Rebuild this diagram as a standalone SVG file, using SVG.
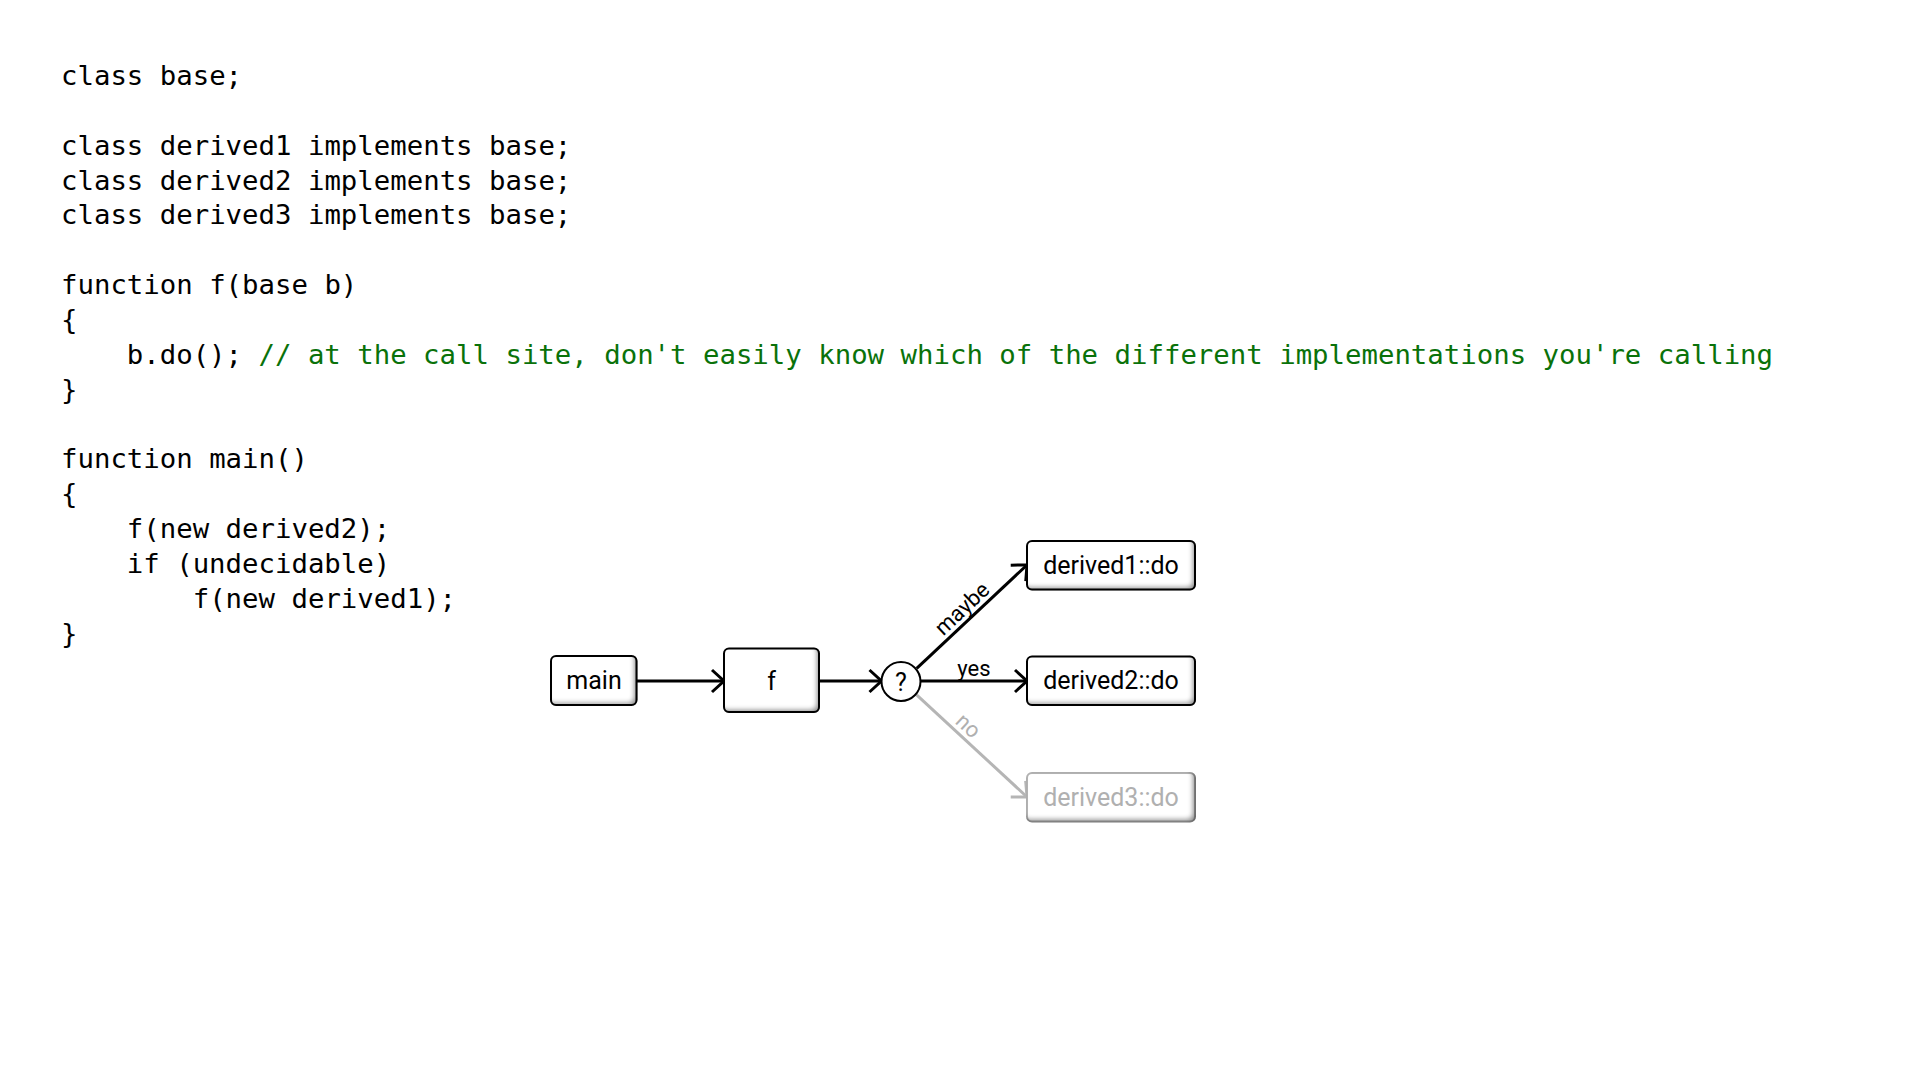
<svg xmlns="http://www.w3.org/2000/svg" width="1920" height="1080" viewBox="0 0 1920 1080">
<style>
.code{font-family:"DejaVu Sans Mono","Liberation Mono",monospace;font-size:27.35px;fill:#000;}
.cm{fill:#0a720a;}
.box{fill:#fff;stroke:#000;stroke-width:2;}
.box.dim{stroke:#b5b5b5;}
.lbl{font-family:Roboto,"Liberation Sans",sans-serif;font-size:25px;fill:#000;text-anchor:middle;}
.lbl.dim{fill:#b0b0b0;}
.elbl{font-family:Roboto,"Liberation Sans",sans-serif;font-size:22px;fill:#000;text-anchor:middle;}
.elbl.dim{fill:#b0b0b0;}
.edge{fill:none;stroke:#000;stroke-width:3;marker-end:url(#arr);}
.edge.dim{stroke:#b5b5b5;marker-end:url(#arrg);}
</style>
<defs>
<filter id="inset" x="-10%" y="-10%" width="120%" height="120%" color-interpolation-filters="sRGB">
<feComponentTransfer in="SourceAlpha" result="inv"><feFuncA type="table" tableValues="1 0"/></feComponentTransfer>
<feGaussianBlur in="inv" stdDeviation="2.5"/>
<feOffset dx="-3" dy="-3" result="ob"/>
<feFlood flood-color="#000" flood-opacity="0.45"/>
<feComposite in2="ob" operator="in"/>
<feComposite in2="SourceAlpha" operator="in" result="sh"/>
<feMerge><feMergeNode in="SourceGraphic"/><feMergeNode in="sh"/></feMerge>
</filter>
<marker id="arr" markerUnits="userSpaceOnUse" markerWidth="20" markerHeight="30" refX="14" refY="13" orient="auto">
<path d="M2,2 L14,13 L2,24" fill="none" stroke="#000" stroke-width="3"/>
</marker>
<marker id="arrg" markerUnits="userSpaceOnUse" markerWidth="20" markerHeight="30" refX="14" refY="13" orient="auto">
<path d="M2,2 L14,13 L2,24" fill="none" stroke="#b5b5b5" stroke-width="3"/>
</marker>
</defs>
<rect width="1920" height="1080" fill="#fff"/>
<g id="code" class="code">
<text x="61" y="85">class base;</text>
<text x="61" y="154.7">class derived1 implements base;</text>
<text x="61" y="189.55">class derived2 implements base;</text>
<text x="61" y="224.4">class derived3 implements base;</text>
<text x="61" y="294.1">function f(base b)</text>
<text x="61" y="328.95">{</text>
<text x="126.8" y="363.8">b.do(); <tspan class="cm">// at the call site, don't easily know which of the different implementations you're calling</tspan></text>
<text x="61" y="398.65">}</text>
<text x="61" y="468.35">function main()</text>
<text x="61" y="503.2">{</text>
<text x="126.8" y="538.05">f(new derived2);</text>
<text x="126.8" y="572.9">if (undecidable)</text>
<text x="192.7" y="607.75">f(new derived1);</text>
<text x="61" y="642.6">}</text>
</g>
<g id="connectors">
<line class="edge" x1="637" y1="681" x2="724" y2="681"/>
<line class="edge" x1="819" y1="681" x2="881.5" y2="681"/>
<line class="edge" x1="916.7" y1="668.3" x2="1027" y2="565"/>
<line class="edge" x1="920.5" y1="681" x2="1027" y2="681"/>
<line class="edge dim" x1="915" y1="693.3" x2="1027" y2="797"/>
<text class="elbl" transform="translate(970.6,617.6) rotate(-43.2)" y="-5">maybe</text>
<text class="elbl" x="974" y="676">yes</text>
<text class="elbl dim" transform="translate(960,734.7) rotate(42.6)" y="-5">no</text>
</g>
<g id="node-main">
<rect class="box" x="551" y="656" width="85.5" height="49" rx="5" filter="url(#inset)"/>
<text class="lbl" x="594" y="689">main</text>
</g>
<g id="node-f">
<rect class="box" x="724" y="648.5" width="95" height="63.5" rx="5" filter="url(#inset)"/>
<text class="lbl" x="771.5" y="690">f</text>
</g>
<g id="node-q">
<circle cx="901" cy="681.5" r="19.5" fill="#fff" stroke="#000" stroke-width="2"/>
<text class="lbl" x="901" y="690.5">?</text>
</g>
<g id="node-derived1">
<rect class="box" x="1027" y="541" width="168" height="48.5" rx="5" filter="url(#inset)"/>
<text class="lbl" x="1111" y="573.5">derived1::do</text>
</g>
<g id="node-derived2">
<rect class="box" x="1027" y="656.5" width="168" height="48.5" rx="5" filter="url(#inset)"/>
<text class="lbl" x="1111" y="689">derived2::do</text>
</g>
<g id="node-derived3">
<rect class="box dim" x="1027" y="773" width="168" height="48.5" rx="5" filter="url(#inset)"/>
<text class="lbl dim" x="1111" y="806">derived3::do</text>
</g>
</svg>
